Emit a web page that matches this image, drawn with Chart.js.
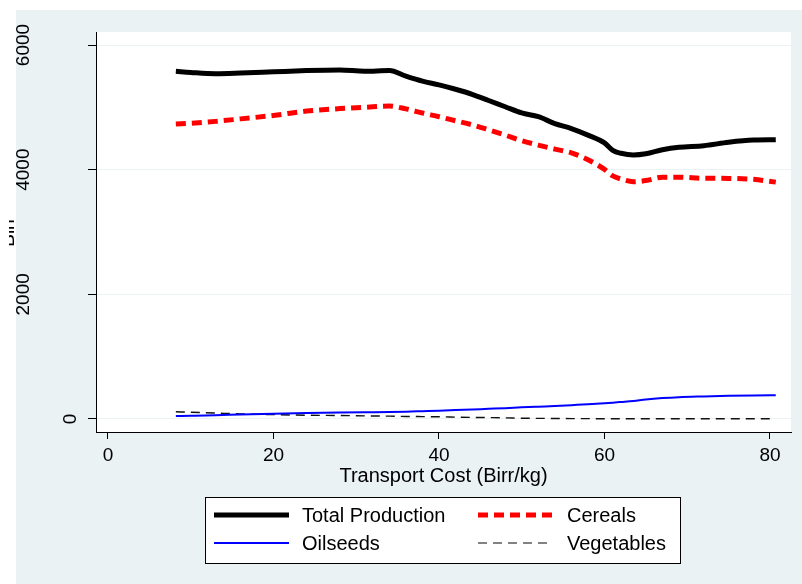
<!DOCTYPE html>
<html>
<head>
<meta charset="utf-8">
<script src="https://cdn.jsdelivr.net/npm/chart.js@4.4.1/dist/chart.umd.min.js"></script>
<style>
  html, body { margin: 0; padding: 0; background: #ffffff; }
  #wrap { width: 802px; height: 584px; }
</style>
</head>
<body>
<div id="wrap"><canvas id="c" width="802" height="584"></canvas></div>
<script>
// Smoothed production value by transport cost
const transportCost = [8.2, 10, 13, 16, 20, 24, 28, 31, 34, 36, 38, 40, 42, 44, 46, 48, 50, 52, 54, 56, 58, 60, 61, 62, 63.5, 65, 67, 69, 72, 75, 78, 80.7];
const totalProduction = [5578, 5560, 5540, 5550, 5570, 5590, 5600, 5580, 5590, 5500, 5420, 5360, 5290, 5210, 5110, 5010, 4910, 4850, 4740, 4660, 4555, 4430, 4310, 4263, 4236, 4255, 4320, 4360, 4385, 4440, 4475, 4480];
const cereals = [4733, 4745, 4775, 4815, 4870, 4940, 4980, 5000, 5020, 4975, 4910, 4850, 4785, 4720, 4640, 4555, 4465, 4395, 4330, 4270, 4160, 4005, 3900, 3850, 3807, 3825, 3880, 3880, 3862, 3860, 3845, 3800];
const oilseeds = [48, 52, 60, 72, 85, 95, 103, 108, 112, 117, 125, 133, 143, 153, 163, 173, 187, 198, 208, 222, 236, 252, 262, 273, 290, 313, 335, 350, 362, 372, 378, 380];
const vegetables = [115, 108, 95, 82, 70, 60, 55, 50, 45, 40, 38, 35, 30, 25, 22, 18, 12, 10, 8, 6, 5, 4, 4, 4, 4, 3, 3, 3, 3, 3, 3, 3];

const seriesLabels = ['Total Production', 'Cereals', 'Oilseeds', 'Vegetables'];
const xTickValues = [0, 20, 40, 60, 80];
const yTickValues = [0, 2000, 4000, 6000];
const xAxisTitle = 'Transport Cost (Birr/kg)';
const yAxisTitle = 'Birr';

const FONT = '"Liberation Sans", Arial, Helvetica, sans-serif';
const PANEL = '#eaf2f3';

const toPoints = ys => transportCost.map((x, i) => ({ x: x, y: ys[i] }));

// Outer panel and white plot region
const framePlugin = {
  id: 'frame',
  beforeDraw(chart) {
    const { ctx, chartArea: a } = chart;
    ctx.save();
    ctx.fillStyle = '#ffffff';
    ctx.fillRect(0, 0, chart.width, chart.height);
    ctx.fillStyle = PANEL;
    ctx.fillRect(16, 10, chart.width - 16, chart.height - 10);
    ctx.fillStyle = '#ffffff';
    ctx.fillRect(a.left, a.top, a.right - a.left, a.bottom - a.top);
    ctx.restore();
  }
};

// Vertical y tick labels and the y axis title
const yLabelPlugin = {
  id: 'yLabels',
  afterDraw(chart) {
    const ctx = chart.ctx;
    const ys = chart.scales.y;
    ctx.save();
    ctx.font = '19px ' + FONT;
    ctx.fillStyle = '#000000';
    ctx.textAlign = 'center';
    ctx.textBaseline = 'middle';
    yTickValues.forEach(v => {
      const s = String(v);
      const w = ctx.measureText(s).width;
      const py = ys.getPixelForValue(v);
      const cx = ys.right - 9.3 - 1.48 * w;
      ctx.save();
      ctx.translate(cx, py);
      ctx.rotate(-Math.PI / 2);
      ctx.fillText(s, 0, 0);
      ctx.restore();
    });
    ctx.restore();

    // axis title sits mostly beyond the left edge of the panel
    ctx.save();
    ctx.beginPath();
    ctx.rect(9, 0, 7, chart.height);
    ctx.clip();
    ctx.font = '19px ' + FONT;
    ctx.fillStyle = '#000000';
    ctx.textAlign = 'center';
    ctx.textBaseline = 'alphabetic';
    ctx.translate(13.5, (ys.top + ys.bottom) / 2);
    ctx.rotate(-Math.PI / 2);
    ctx.fillText(yAxisTitle, 0, 0);
    ctx.restore();
  }
};

// Boxed two-column legend below the axis title
const legendPlugin = {
  id: 'boxLegend',
  afterDraw(chart) {
    const ctx = chart.ctx;
    const box = { x: 205.5, y: 497.5, w: 475, h: 66 };
    ctx.save();
    ctx.fillStyle = '#ffffff';
    ctx.fillRect(box.x, box.y, box.w, box.h);
    ctx.strokeStyle = '#000000';
    ctx.lineWidth = 1;
    ctx.strokeRect(box.x, box.y, box.w, box.h);
    const cols = [{ line: 214, text: 302 }, { line: 478, text: 567 }];
    const rows = [515, 543];
    chart.data.datasets.forEach((ds, i) => {
      const c = cols[i % 2];
      const y = rows[Math.floor(i / 2)];
      ctx.save();
      ctx.strokeStyle = ds.legendColor || ds.borderColor;
      ctx.lineWidth = ds.borderWidth;
      ctx.setLineDash(ds.borderDash || []);
      ctx.beginPath();
      ctx.moveTo(c.line, y);
      ctx.lineTo(c.line + 75, y);
      ctx.stroke();
      ctx.restore();
      ctx.font = '20px ' + FONT;
      ctx.fillStyle = '#000000';
      ctx.textAlign = 'left';
      ctx.textBaseline = 'middle';
      ctx.fillText(ds.label, c.text, y + 1);
    });
    ctx.restore();
  }
};

new Chart(document.getElementById('c'), {
  type: 'line',
  data: {
    datasets: [
      { label: seriesLabels[0], data: toPoints(totalProduction), borderColor: '#000000', borderWidth: 5, cubicInterpolationMode: 'monotone' },
      { label: seriesLabels[1], data: toPoints(cereals), borderColor: '#ff0000', borderWidth: 5, borderDash: [10, 6], cubicInterpolationMode: 'monotone' },
      { label: seriesLabels[2], data: toPoints(oilseeds), borderColor: '#0000ff', borderWidth: 2, cubicInterpolationMode: 'monotone' },
      { label: seriesLabels[3], data: toPoints(vegetables), borderColor: '#111111', legendColor: '#5a5a5a', borderWidth: 1.4, borderDash: [9, 6], cubicInterpolationMode: 'monotone' }
    ]
  },
  options: {
    responsive: false,
    animation: false,
    devicePixelRatio: 1,
    elements: { point: { radius: 0 } },
    layout: { padding: { left: 0, top: 32, right: 11, bottom: 0 } },
    plugins: { legend: { display: false }, tooltip: { enabled: false } },
    scales: {
      x: {
        type: 'linear',
        min: -1.45,
        max: 82.54,
        afterBuildTicks: s => { s.ticks = xTickValues.map(v => ({ value: v })); },
        afterFit: s => { s.height = 152; },
        grid: { drawOnChartArea: false, drawTicks: true, tickLength: 7, color: '#000000', tickColor: '#000000' },
        border: { display: true, color: '#000000', width: 1 },
        ticks: { padding: 5, color: '#000000', font: { family: FONT, size: 19 }, maxRotation: 0, autoSkip: false },
        title: { display: true, text: xAxisTitle, color: '#000000', font: { family: FONT, size: 20 }, padding: { top: 0, bottom: 96 } }
      },
      y: {
        type: 'linear',
        min: -209,
        max: 6209,
        afterBuildTicks: s => { s.ticks = yTickValues.map(v => ({ value: v })); },
        afterFit: s => { s.width = 96; },
        grid: { color: PANEL, lineWidth: 1, tickColor: '#000000', tickLength: 8 },
        border: { display: true, color: '#000000', width: 1 },
        ticks: { display: false }
      }
    }
  },
  plugins: [framePlugin, yLabelPlugin, legendPlugin]
});
</script>
</body>
</html>
